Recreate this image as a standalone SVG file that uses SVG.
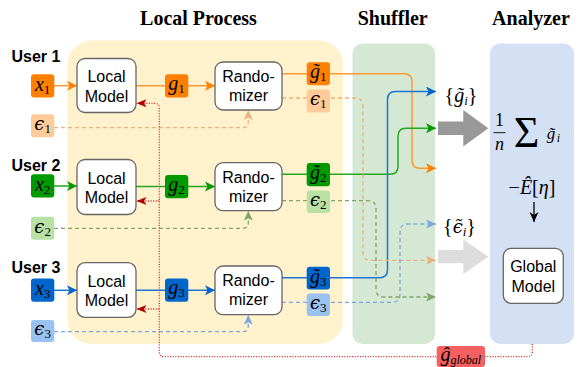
<svg xmlns="http://www.w3.org/2000/svg" width="579" height="367" viewBox="0 0 579 367">
<defs>
<style>
.title{font-family:"Liberation Serif",serif;font-weight:bold;font-size:20px;text-anchor:middle;fill:#000}
.user{font-family:"Liberation Sans",Arial,sans-serif;font-weight:bold;font-size:16px;fill:#000}
.box{fill:#fff;stroke:#666;stroke-width:1.3}
.bt{font-family:"Liberation Sans",Arial,sans-serif;font-size:16px;text-anchor:middle;fill:#000}
.m{font-family:"Liberation Serif","DejaVu Serif",serif;font-size:20px;text-anchor:middle;fill:#000}
.mi{font-style:italic}
.sub{font-size:13px}
.ep{font-family:"DejaVu Serif",serif;font-size:18px}
.ln{fill:none;stroke-width:1.5}
.dl{fill:none;stroke-width:1.3;stroke-dasharray:4 3}
.or{stroke:#FF9933}.gr{stroke:#22A822}.bl{stroke:#1C75D6}
.ord{stroke:#EBB07D}.grd{stroke:#82A46B}.bld{stroke:#7EA6E0}
.red{fill:none;stroke:#D42020;stroke-width:1.3;stroke-dasharray:1 1.6}
</style>
<marker id="aO" markerUnits="userSpaceOnUse" markerWidth="11" markerHeight="11" refX="10" refY="5" orient="auto"><path d="M0,0 L10,5 L0,10 L2.5,5 z" fill="#FF8000"/></marker>
<marker id="aG" markerUnits="userSpaceOnUse" markerWidth="11" markerHeight="11" refX="10" refY="5" orient="auto"><path d="M0,0 L10,5 L0,10 L2.5,5 z" fill="#009900"/></marker>
<marker id="aB" markerUnits="userSpaceOnUse" markerWidth="11" markerHeight="11" refX="10" refY="5" orient="auto"><path d="M0,0 L10,5 L0,10 L2.5,5 z" fill="#0066CC"/></marker>
<marker id="aOd" markerUnits="userSpaceOnUse" markerWidth="11" markerHeight="11" refX="10" refY="5" orient="auto"><path d="M0,0.5 L10,5 L0,9.5 L2.5,5 z" fill="#EBB07D"/></marker>
<marker id="aGd" markerUnits="userSpaceOnUse" markerWidth="11" markerHeight="11" refX="10" refY="5" orient="auto"><path d="M0,0.5 L10,5 L0,9.5 L2.5,5 z" fill="#82A46B"/></marker>
<marker id="aBd" markerUnits="userSpaceOnUse" markerWidth="11" markerHeight="11" refX="10" refY="5" orient="auto"><path d="M0,0.5 L10,5 L0,9.5 L2.5,5 z" fill="#7EA6E0"/></marker>
<marker id="aR" markerUnits="userSpaceOnUse" markerWidth="11" markerHeight="11" refX="10" refY="5" orient="auto"><path d="M0,1 L10,5 L0,9 L2.5,5 z" fill="#B20000"/></marker>
<marker id="aK" markerUnits="userSpaceOnUse" markerWidth="11" markerHeight="11" refX="10" refY="5" orient="auto"><path d="M0,0.5 L10,5 L0,9.5 L3,5 z" fill="#000"/></marker>
</defs>

<g id="regions">
<rect x="67.5" y="40.5" width="275.5" height="303.5" rx="24" fill="#FFF2CC"/>
<rect x="352.5" y="43.5" width="82.5" height="300.5" rx="10" fill="#D5E8D4"/>
<rect x="490" y="43.5" width="84" height="300.5" rx="10" fill="#D4E1F5"/>
</g>

<g id="titles">
<text class="title" x="198.5" y="24.5">Local Process</text>
<text class="title" x="392.7" y="24.5">Shuffler</text>
<text class="title" x="531" y="24.5">Analyzer</text>
<text class="user" x="11.5" y="61.5">User 1</text>
<text class="user" x="11.5" y="170.5">User 2</text>
<text class="user" x="11.5" y="272.5">User 3</text>
</g>

<g id="connectors">
<path class="ln or" d="M54,85.7 H77" marker-end="url(#aO)"/>
<path class="ln gr" d="M54,186 H77" marker-end="url(#aG)"/>
<path class="ln bl" d="M54,290.3 H77" marker-end="url(#aB)"/>
<path class="ln or" d="M136,85.7 H215" marker-end="url(#aO)"/>
<path class="ln gr" d="M136,186.5 H215" marker-end="url(#aG)"/>
<path class="ln bl" d="M136,290.3 H215" marker-end="url(#aB)"/>
<path class="dl ord" d="M54,127.7 H243 Q248.3,127.7 248.3,122 V110" marker-end="url(#aOd)"/>
<path class="dl grd" d="M54,228.3 H243 Q248.3,228.3 248.3,223 V210.7" marker-end="url(#aGd)"/>
<path class="dl bld" d="M54,331.7 H243 Q248.3,331.7 248.3,326 V314.7" marker-end="url(#aBd)"/>
<path class="ln or" d="M282,73.7 H404 Q412,73.7 412,81.7 V160.3 Q412,168.3 420,168.3 H436" marker-end="url(#aO)"/>
<path class="ln gr" d="M282,174.3 H390 Q398,174.3 398,166.3 V136.3 Q398,128.3 406,128.3 H436" marker-end="url(#aG)"/>
<path class="ln bl" d="M282,277.7 H379.5 Q387.5,277.7 387.5,269.7 V99.5 Q387.5,91.5 395.5,91.5 H436" marker-end="url(#aB)"/>
<path class="dl ord" d="M282,98 H355 Q363,98 363,106 V252.3 Q363,260.3 371,260.3 H436" marker-end="url(#aOd)"/>
<path class="dl grd" d="M282,200.7 H368 Q376,200.7 376,208.7 V289 Q376,297 384,297 H436" marker-end="url(#aGd)"/>
<path class="dl bld" d="M282,302.3 H392 Q400,302.3 400,294.3 V232 Q400,224 408,224 H436" marker-end="url(#aBd)"/>
<path class="red" d="M532.3,344 V351.7 Q532.3,356.7 527.3,356.7 H164.3 Q159.3,356.7 159.3,351.7 V108.3 Q159.3,103.3 154.3,103.3 H136.5" marker-end="url(#aR)"/>
<path class="red" d="M159.3,201 H136.5" marker-end="url(#aR)"/>
<path class="red" d="M159.3,309 H136.5" marker-end="url(#aR)"/>
<path d="M534,202 V222" fill="none" stroke="#000" stroke-width="1.3" marker-end="url(#aK)"/>
<polygon points="438,121.5 463.3,121.5 463.3,110 488.3,128.3 463.3,146.5 463.3,135 438,135" fill="#999999"/>
<polygon points="438,250 463.3,250 463.3,239.5 488.3,256.7 463.3,274 463.3,263.3 438,263.3" fill="#DDDDDD"/>
</g>

<g id="user1">
<rect x="31" y="74.2" width="23.3" height="23.3" rx="3" fill="#FF8000"/>
<text class="m" x="42.6" y="90.5"><tspan class="mi">x</tspan><tspan class="sub" dy="3">1</tspan></text>
<rect x="31" y="114.3" width="23.3" height="23" rx="3" fill="#FFCC99"/>
<text class="m" x="42.6" y="130"><tspan class="mi ep">ϵ</tspan><tspan class="sub" dy="3">1</tspan></text>
</g>
<g id="user2">
<rect x="31" y="174.3" width="23.3" height="23.3" rx="3" fill="#009900"/>
<text class="m" x="42.6" y="190.5"><tspan class="mi">x</tspan><tspan class="sub" dy="3">2</tspan></text>
<rect x="31" y="216.7" width="23.3" height="23" rx="3" fill="#B9E0A5"/>
<text class="m" x="42.6" y="232.5"><tspan class="mi ep">ϵ</tspan><tspan class="sub" dy="3">2</tspan></text>
</g>
<g id="user3">
<rect x="31" y="278.5" width="23.3" height="23.3" rx="3" fill="#0066CC"/>
<text class="m" x="42.6" y="294.7"><tspan class="mi">x</tspan><tspan class="sub" dy="3">3</tspan></text>
<rect x="31" y="320" width="23.3" height="22" rx="3" fill="#99C2F0"/>
<text class="m" x="42.6" y="335"><tspan class="mi ep">ϵ</tspan><tspan class="sub" dy="3">3</tspan></text>
</g>

<g id="localmodel1"><rect class="box" x="77" y="58.5" width="59" height="54" rx="8"/><text class="bt" x="106.5" y="82.3">Local</text><text class="bt" x="106.5" y="101.7">Model</text></g>
<g id="localmodel2"><rect class="box" x="77" y="159.5" width="59" height="55" rx="8"/><text class="bt" x="106.5" y="183.5">Local</text><text class="bt" x="106.5" y="203">Model</text></g>
<g id="localmodel3"><rect class="box" x="77" y="262.7" width="59" height="54.6" rx="8"/><text class="bt" x="106.5" y="286.8">Local</text><text class="bt" x="106.5" y="306.2">Model</text></g>

<g id="g1"><rect x="165" y="74.2" width="23.3" height="23.3" rx="3" fill="#FF8000"/><text class="m" x="176.6" y="90"><tspan class="mi">g</tspan><tspan class="sub" dy="3">1</tspan></text></g>
<g id="g2"><rect x="165" y="175" width="23.3" height="23.3" rx="3" fill="#009900"/><text class="m" x="176.6" y="190.8"><tspan class="mi">g</tspan><tspan class="sub" dy="3">2</tspan></text></g>
<g id="g3"><rect x="165" y="278.5" width="23.3" height="23.3" rx="3" fill="#0066CC"/><text class="m" x="176.6" y="294.3"><tspan class="mi">g</tspan><tspan class="sub" dy="3">3</tspan></text></g>

<g id="randomizer1"><rect class="box" x="215" y="62" width="67" height="48" rx="8"/><text class="bt" x="248.5" y="82">Rando-</text><text class="bt" x="248.5" y="101">mizer</text></g>
<g id="randomizer2"><rect class="box" x="215" y="162.7" width="67" height="48" rx="8"/><text class="bt" x="248.5" y="182.7">Rando-</text><text class="bt" x="248.5" y="201.7">mizer</text></g>
<g id="randomizer3"><rect class="box" x="215" y="266" width="67" height="48.7" rx="8"/><text class="bt" x="248.5" y="286.2">Rando-</text><text class="bt" x="248.5" y="305.2">mizer</text></g>

<g id="gt1"><rect x="306.7" y="62.2" width="23.3" height="23" rx="3" fill="#FF8000"/><text class="m" x="318.3" y="78"><tspan class="mi">g̃</tspan><tspan class="sub" dy="3">1</tspan></text></g>
<g id="e1"><rect x="306.7" y="89.5" width="23.3" height="23" rx="3" fill="#FFCC99"/><text class="m" x="318.3" y="105"><tspan class="mi ep">ϵ</tspan><tspan class="sub" dy="3">1</tspan></text></g>
<g id="gt2"><rect x="306.7" y="163" width="23.3" height="23.3" rx="3" fill="#009900"/><text class="m" x="318.3" y="179"><tspan class="mi">g̃</tspan><tspan class="sub" dy="3">2</tspan></text></g>
<g id="e2"><rect x="306.7" y="190.5" width="23.3" height="22.5" rx="3" fill="#B9E0A5"/><text class="m" x="318.3" y="205.8"><tspan class="mi ep">ϵ</tspan><tspan class="sub" dy="3">2</tspan></text></g>
<g id="gt3"><rect x="306.7" y="266.7" width="23.3" height="22.8" rx="3" fill="#0066CC"/><text class="m" x="318.3" y="282.5"><tspan class="mi">g̃</tspan><tspan class="sub" dy="3">3</tspan></text></g>
<g id="e3"><rect x="306.7" y="293.5" width="23.3" height="22.5" rx="3" fill="#99C2F0"/><text class="m" x="318.3" y="308.8"><tspan class="mi ep">ϵ</tspan><tspan class="sub" dy="3">3</tspan></text></g>

<g id="setlabels">
<text class="m" x="461" y="102"><tspan>{</tspan><tspan class="mi">g̃</tspan><tspan class="mi sub" dy="3">i</tspan><tspan dy="-3">}</tspan></text>
<text class="m" x="459.5" y="233"><tspan>{</tspan><tspan class="mi ep">ϵ̃</tspan><tspan class="mi sub" dy="3">i</tspan><tspan dy="-3">}</tspan></text>
</g>

<g id="aggregate">
<text class="m" x="499.5" y="126" style="font-size:18px">1</text>
<line x1="493.5" y1="132.7" x2="505.5" y2="132.7" stroke="#000" stroke-width="0.9"/>
<text class="m mi" x="499.5" y="150" style="font-size:18px">n</text>
<text class="m" x="526.5" y="147" style="font-size:44px;font-weight:300">Σ</text>
<text class="m mi" x="551" y="139" style="font-size:17px">g̃</text>
<text class="m mi" x="558.5" y="142" style="font-size:12px">i</text>
<text class="m" x="532" y="194">−<tspan class="mi">Ê</tspan>[<tspan class="mi">η</tspan>]</text>
</g>

<g id="globalmodel"><rect class="box" x="503.3" y="248.3" width="60" height="55" rx="8"/><text class="bt" x="533.3" y="272">Global</text><text class="bt" x="533.3" y="291.5">Model</text></g>

<g id="gglobal"><rect x="436.7" y="346" width="48.3" height="21" rx="3" fill="#F56060"/><text class="m" x="460.8" y="361"><tspan class="mi">ĝ</tspan><tspan class="mi" style="font-size:12px" dy="3">global</tspan></text></g>
</svg>
